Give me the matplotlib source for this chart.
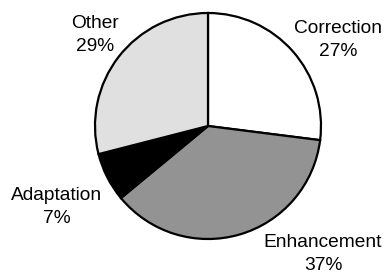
import matplotlib
matplotlib.use("Agg")
import matplotlib.pyplot as plt

categories = ["Correction", "Enhancement", "Adaptation", "Other"]
values = [27, 37, 7, 29]
colors = ["#ffffff", "#939393", "#000000", "#e0e0e0"]

plt.rcParams['font.family'] = ['Liberation Sans', 'DejaVu Sans']

W, H = 391, 276
cx, cy, R = 208, 126, 113

fig = plt.figure(figsize=(W / 100, H / 100), dpi=100)
ax = fig.add_axes([0, 0, 1, 1])
ax.pie(values, colors=colors, startangle=90, counterclock=False,
       radius=1.0, wedgeprops=dict(edgecolor="black", linewidth=1.6))
ax.set_xlim(-cx / R, (W - cx) / R)
ax.set_ylim(-(H - cy) / R, cy / R)
ax.axis("off")

# label positions in pixel coords (layout)
label_px = [(338, 40), (323, 254), (57, 207), (95, 35)]
for cat, val, (px, py) in zip(categories, values, label_px):
    ax.text((px - cx) / R, (cy - py) / R, f"{cat}\n{val}%", ha="center",
            va="center", fontsize=13.8, linespacing=1.5)

fig.savefig("out.png", dpi=100)
